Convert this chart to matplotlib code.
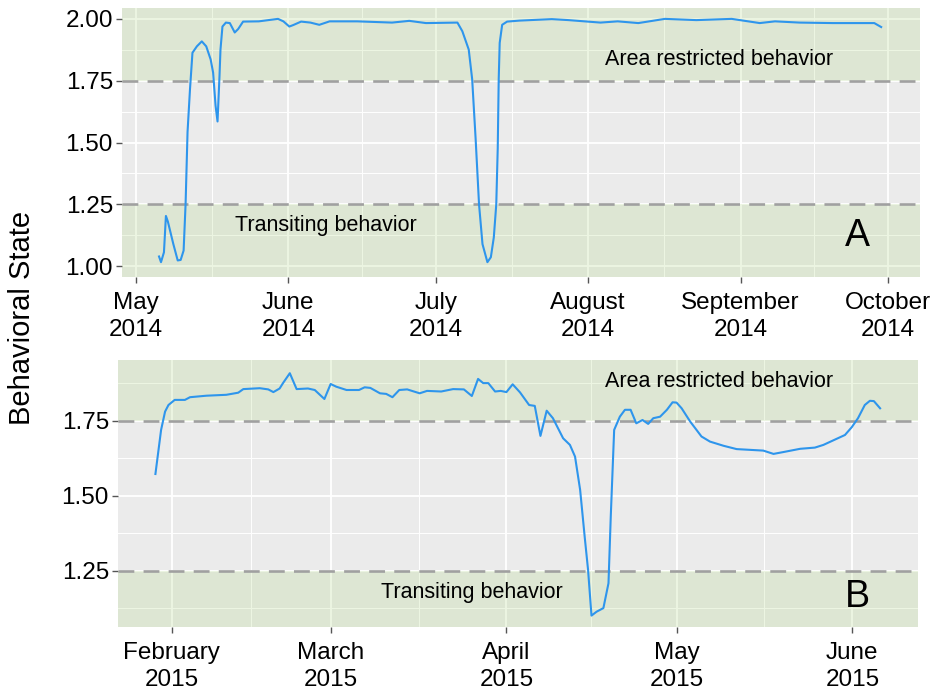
import matplotlib
matplotlib.use("Agg")
import matplotlib.pyplot as plt
import matplotlib.dates as mdates
import numpy as np
import pandas as pd

plt.rcParams['font.family'] = ['Liberation Sans', 'DejaVu Sans']

# ---- Panel A data (days after 2014-05-01, behavioral state) ----
start_a = "2014-05-01"
days_a = [4.7, 5.1, 5.7, 6.1, 6.5, 7.6, 8.5, 9.1, 9.7, 10.1, 10.5, 11.0, 11.5, 12.4,
          13.4, 14.3, 15.2, 15.7, 16.2, 16.6, 17.0, 17.2, 17.6, 18.3, 19.1, 20.1,
          20.8, 21.8, 25.0, 28.9, 30.0, 31.2, 32.0, 33.6, 35.5, 37.3, 39.4, 45.0,
          52.1, 55.6, 59.0, 65.4, 66.4, 67.7, 68.4, 69.1, 69.8, 70.5, 71.5, 72.2,
          72.8, 73.3, 73.6, 73.8, 74.0, 74.5, 75.5, 78.0, 84.6, 88.0, 94.5, 98.0,
          102.2, 107.6, 114.0, 121.2, 126.9, 130.0, 135.0, 141.8, 150.2, 151.6]
state_a = [1.039, 1.016, 1.056, 1.203, 1.18, 1.09, 1.023, 1.025, 1.063, 1.25, 1.543,
           1.716, 1.863, 1.889, 1.909, 1.889, 1.836, 1.783, 1.649, 1.585, 1.769,
           1.876, 1.969, 1.985, 1.983, 1.945, 1.959, 1.989, 1.99, 2.00, 1.99, 1.969,
           1.975, 1.989, 1.985, 1.976, 1.99, 1.99, 1.985, 1.992, 1.983, 1.985, 1.95,
           1.876, 1.756, 1.516, 1.249, 1.089, 1.016, 1.036, 1.116, 1.249, 1.476,
           1.756, 1.903, 1.976, 1.989, 1.993, 1.999, 1.995, 1.985, 1.99, 1.983,
           2.00, 1.995, 2.00, 1.983, 1.99, 1.985, 1.983, 1.983, 1.967]

# ---- Panel B data (days after 2015-02-01, behavioral state) ----
start_b = "2015-02-01"
days_b = [-2.9, -1.9, -1.2, -0.6, 0.5, 2.3, 3.2, 6.1, 9.6, 11.7, 12.6, 15.5, 17.0,
          17.9, 19.0, 19.6, 20.8, 22.0, 24.0, 25.2, 26.9, 28.0, 29.0, 30.8, 33.0,
          34.0, 35.0, 36.7, 37.8, 38.9, 40.1, 41.5, 43.7, 45.0, 47.5, 49.6, 51.5,
          52.9, 54.0, 54.9, 55.8, 57.0, 58.0, 59.0, 60.1, 61.4, 63.0, 64.0, 65.0,
          66.1, 67.2, 69.0, 70.2, 71.1, 72.0, 72.8, 73.4, 74.0, 74.9, 76.1, 77.0,
          77.4, 78.0, 79.0, 79.9, 80.9, 81.9, 83.0, 84.0, 84.9, 86.1, 87.3, 88.3,
          89.0, 89.9, 91.4, 93.4, 94.9, 97.3, 99.6, 104.3, 106.1, 107.8, 110.8,
          113.4, 114.9, 117.2, 118.7, 119.9, 121.0, 122.2, 123.1, 123.8, 124.9]
state_b = [1.573, 1.72, 1.781, 1.803, 1.82, 1.82, 1.829, 1.834, 1.837, 1.844, 1.856,
           1.859, 1.855, 1.846, 1.858, 1.876, 1.909, 1.856, 1.858, 1.853, 1.823,
           1.873, 1.864, 1.853, 1.853, 1.862, 1.860, 1.842, 1.840, 1.829, 1.853,
           1.855, 1.842, 1.850, 1.848, 1.856, 1.855, 1.833, 1.89, 1.876, 1.876,
           1.848, 1.850, 1.846, 1.872, 1.845, 1.803, 1.80, 1.70, 1.784, 1.759,
           1.692, 1.67, 1.631, 1.52, 1.364, 1.253, 1.101, 1.114, 1.126, 1.209,
           1.431, 1.72, 1.764, 1.787, 1.787, 1.742, 1.753, 1.74, 1.759, 1.764,
           1.787, 1.812, 1.811, 1.792, 1.748, 1.698, 1.681, 1.667, 1.656, 1.651,
           1.64, 1.646, 1.657, 1.661, 1.67, 1.69, 1.703, 1.729, 1.759, 1.803,
           1.817, 1.816, 1.792]

# thresholds and labels
upper_thr = 1.75
lower_thr = 1.25
label_arb = "Area restricted behavior"
label_tr = "Transiting behavior"
ylabel = "Behavioral State"

ticks_a = ["2014-05-01", "2014-06-01", "2014-07-01", "2014-08-01", "2014-09-01", "2014-10-01"]
ticks_b = ["2015-02-01", "2015-03-01", "2015-04-01", "2015-05-01", "2015-06-01"]
yticks_a = [1.00, 1.25, 1.50, 1.75, 2.00]
yticks_b = [1.25, 1.50, 1.75]
xlim_a = ("2014-04-28 04:00", "2014-10-07 12:00")
xlim_b = ("2015-01-22 12:00", "2015-06-12 14:00")
ylim_a = (0.956, 2.044)
ylim_b = (1.063, 1.953)

GRAY_BG = "#EBEBEB"
GREEN = (165/255, 210/255, 115/255)
LINE = "#2E95EC"

fig = plt.figure(figsize=(9.41, 6.91), dpi=100)
axA = fig.add_axes([122/941, 1-277/691, 798/941, 269/691])
axB = fig.add_axes([118/941, 1-627/691, 800/941, 267/691])


def to_dates(start, days):
    return pd.Timestamp(start) + pd.to_timedelta(np.array(days), unit="D")


def style(ax, xticks, yticks, xlim, ylim):
    ax.set_facecolor(GRAY_BG)
    for s in ax.spines.values():
        s.set_visible(False)
    xt = [mdates.date2num(pd.Timestamp(t)) for t in xticks]
    ax.set_xticks(xt)
    ax.set_xticklabels([pd.Timestamp(t).strftime("%B\n%Y") for t in xticks],
                       linespacing=1.3)
    xl = [mdates.date2num(pd.Timestamp(v)) for v in xlim]
    ax.set_xlim(xl)
    ax.set_ylim(ylim)
    ax.set_yticks(yticks)
    ax.set_yticklabels([f"{v:.2f}" for v in yticks])
    # minor breaks midway
    xm = [(a + b) / 2 for a, b in zip(xt[:-1], xt[1:])]
    ym_all = [1.125, 1.375, 1.625, 1.875]
    ym = [v for v in ym_all if ylim[0] < v < ylim[1]]
    ax.set_xticks(xm, minor=True)
    ax.set_yticks(ym, minor=True)
    ax.grid(which="major", color="white", lw=1.3)
    ax.grid(which="minor", color="white", lw=0.7)
    ax.set_axisbelow(True)
    ax.tick_params(which="minor", length=0)
    ax.tick_params(which="major", length=4.5, width=1.0, color="#555555",
                   labelsize=17.5, labelcolor="black")
    ax.tick_params(axis="y", pad=2)
    ax.tick_params(axis="x", pad=6)
    # shaded behaviour zones
    ax.axhspan(upper_thr, ylim[1], color=GREEN, alpha=0.2, lw=0, zorder=1.5)
    ax.axhspan(ylim[0], lower_thr, color=GREEN, alpha=0.2, lw=0, zorder=1.5)
    for thr in (upper_thr, lower_thr):
        ax.axhline(thr, color="#A0A0A0", lw=1.9, dashes=(6, 3.5), zorder=2)


style(axA, ticks_a, yticks_a, xlim_a, ylim_a)
style(axB, ticks_b, yticks_b, xlim_b, ylim_b)

axA.plot(to_dates(start_a, days_a), state_a, color=LINE, lw=1.5, zorder=3)
axB.plot(to_dates(start_b, days_b), state_b, color=LINE, lw=1.5, zorder=3)

axA.text(0.748, 0.807, label_arb, transform=axA.transAxes, ha="center", va="center", fontsize=15.5)
axA.text(0.256, 0.193, label_tr, transform=axA.transAxes, ha="center", va="center", fontsize=15.5)
axA.text(0.921, 0.152, "A", transform=axA.transAxes, ha="center", va="center", fontsize=27)

axB.text(0.751, 0.921, label_arb, transform=axB.transAxes, ha="center", va="center", fontsize=15.5)
axB.text(0.4425, 0.131, label_tr, transform=axB.transAxes, ha="center", va="center", fontsize=15.5)
axB.text(0.924, 0.112, "B", transform=axB.transAxes, ha="center", va="center", fontsize=27)

fig.text(22/941, 1-318/691, ylabel, rotation=90, ha="center", va="center", fontsize=21)

fig.savefig("out.png", dpi=100)
